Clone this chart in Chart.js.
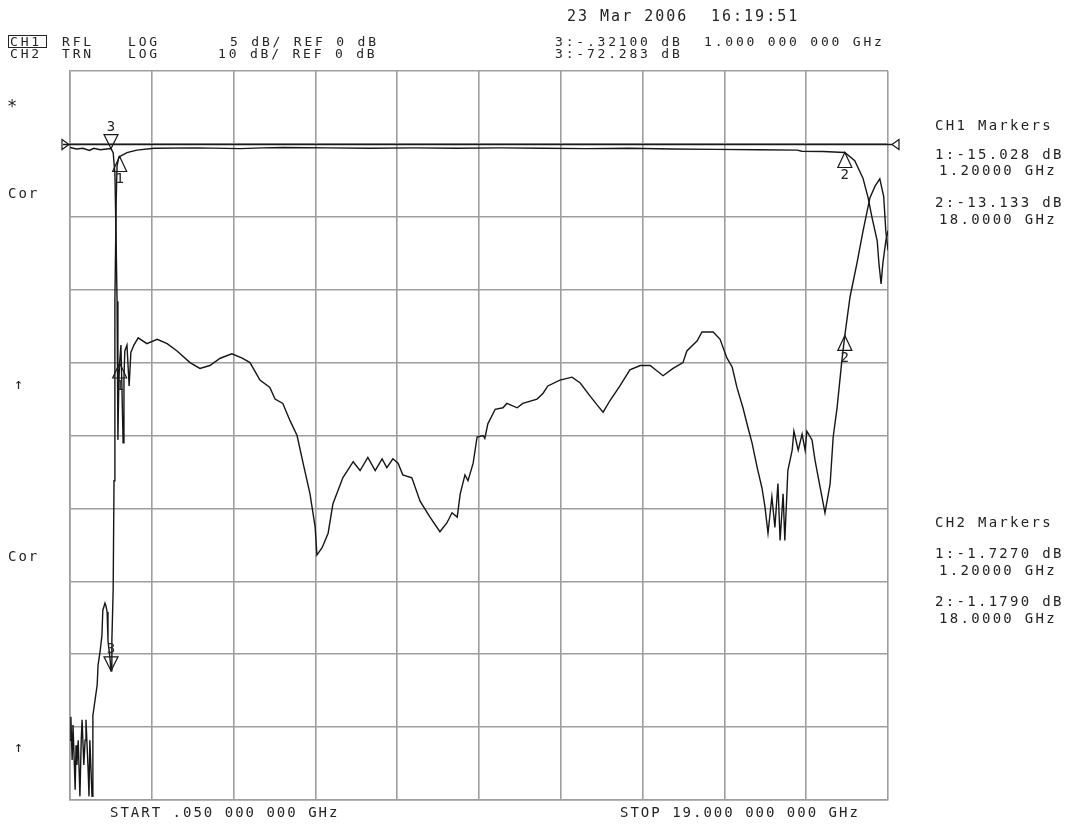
<!DOCTYPE html>
<html><head><meta charset="utf-8">
<script src="https://cdn.jsdelivr.net/npm/chart.js@4"></script>
<style>html,body{margin:0;padding:0;background:#fff}#wrap{width:1091px;height:824px;position:relative}</style>
</head><body><div id="wrap"><canvas id="c" width="1091" height="824"></canvas></div>
<script>
// Sweep (GHz)
const freqStart = 0.05, freqStop = 19.0;
// CH1: reflection, 5 dB/div, ref 0 dB
const ch1Freq = [0.05,0.2,0.35,0.5,0.6,0.75,0.9,1.0,1.05,1.09,1.115,1.14,1.16,1.18,1.2,1.23,1.255,1.28,1.30,1.32,1.37,1.42,1.46,1.53,1.63,1.83,2.07,2.30,2.53,2.83,3.06,3.29,3.53,3.80,4.04,4.22,4.45,4.68,4.80,4.98,5.15,5.31,5.45,5.61,5.73,5.77,5.89,6.03,6.14,6.37,6.61,6.77,6.95,7.12,7.28,7.39,7.53,7.65,7.76,7.97,8.16,8.39,8.62,8.78,8.90,9.02,9.09,9.20,9.27,9.39,9.48,9.62,9.66,9.73,9.90,10.08,10.17,10.41,10.54,10.87,11.01,11.12,11.40,11.68,11.87,12.10,12.26,12.40,12.56,12.79,13.02,13.26,13.49,13.79,14.02,14.25,14.34,14.58,14.69,14.95,15.11,15.27,15.39,15.50,15.64,15.76,15.85,15.97,16.08,16.15,16.22,16.31,16.38,16.45,16.50,16.57,16.61,16.68,16.78,16.82,16.92,17.01,17.08,17.12,17.24,17.31,17.43,17.54,17.66,17.73,17.82,17.93,18.0,18.12,18.28,18.42,18.58,18.70,18.81,18.90,18.95,19.0];
const ch1Db = [-0.25,-0.35,-0.3,-0.45,-0.3,-0.4,-0.35,-0.32,-0.6,-2.0,-6.0,-10.8,-20.3,-16.5,-15.0,-13.8,-17.0,-20.5,-16.0,-14.2,-13.8,-16.6,-14.3,-13.8,-13.3,-13.7,-13.4,-13.7,-14.2,-15.0,-15.4,-15.2,-14.7,-14.4,-14.7,-15.0,-16.2,-16.7,-17.5,-17.8,-19.0,-20.0,-21.9,-24.0,-26.3,-28.2,-27.7,-26.7,-24.7,-22.9,-21.8,-22.4,-21.5,-22.4,-21.6,-22.2,-21.6,-21.9,-22.7,-22.9,-24.5,-25.6,-26.6,-26.0,-25.3,-25.6,-24.0,-22.7,-23.1,-21.9,-20.1,-20.0,-20.2,-19.2,-18.2,-18.1,-17.8,-18.1,-17.8,-17.5,-17.1,-16.6,-16.2,-16.0,-16.4,-17.3,-17.9,-18.4,-17.6,-16.6,-15.5,-15.2,-15.2,-15.9,-15.4,-15.0,-14.2,-13.5,-12.9,-12.9,-13.4,-14.7,-15.3,-16.7,-18.1,-19.5,-20.5,-22.2,-23.6,-24.9,-26.7,-24.2,-26.3,-23.3,-27.2,-24.0,-27.2,-22.4,-21.0,-19.7,-21.0,-19.9,-21.0,-19.7,-20.3,-21.7,-23.6,-25.3,-23.3,-20.1,-18.1,-14.9,-13.13,-10.5,-8.2,-6.0,-3.7,-2.9,-2.4,-3.6,-6.0,-7.3];
// CH2: transmission, 10 dB/div, ref 0 dB
const ch2Freq = [0.05,0.07,0.10,0.12,0.17,0.19,0.21,0.24,0.28,0.31,0.33,0.37,0.40,0.42,0.47,0.49,0.51,0.56,0.58,0.63,0.68,0.70,0.75,0.79,0.81,0.86,0.88,0.91,0.93,0.98,1.0,1.02,1.05,1.07,1.09,1.12,1.14,1.18,1.2,1.37,1.6,2.0,3.0,4.0,4.5,5.0,6.0,7.0,8.0,9.0,10.0,11.0,12.0,13.0,14.0,15.0,16.0,16.9,17.0,17.5,18.0,18.23,18.42,18.54,18.63,18.75,18.79,18.84,18.88,18.95,19.0];
const ch2Db = [-81.8,-78.6,-84.5,-79.7,-88.6,-82.5,-85.2,-81.8,-89.5,-81.8,-79.0,-85.2,-81.8,-79.0,-85.9,-89.5,-81.8,-89.5,-78.4,-76.3,-74.2,-71.5,-69.5,-67.4,-64.0,-63.0,-63.3,-64.2,-68.1,-70.8,-72.28,-68.1,-61.2,-46.2,-21.5,-7.8,-3.0,-1.8,-1.73,-1.2,-0.85,-0.6,-0.55,-0.65,-0.55,-0.5,-0.55,-0.6,-0.55,-0.6,-0.55,-0.6,-0.65,-0.6,-0.7,-0.75,-0.8,-0.85,-1.0,-1.05,-1.18,-2.3,-4.7,-7.4,-10.1,-13.3,-16.4,-19.2,-16.4,-13.3,-11.9];
// Markers
const ch1Markers = [{n:'3',f:1.0,db:-0.321,dir:'down'},{n:'1',f:1.2,db:-15.028,dir:'up'},{n:'2',f:18.0,db:-13.133,dir:'up'}];
const ch2Markers = [{n:'3',f:1.0,db:-72.283,dir:'down'},{n:'1',f:1.2,db:-1.727,dir:'up'},{n:'2',f:18.0,db:-1.179,dir:'up'}];
const refLevel = 0;

const pts = (fx, dy) => fx.map((f, i) => ({x: f, y: dy[i]}));
const MONO = '"DejaVu Sans Mono", "Liberation Mono", monospace';
const INK = '#242424';

function txt(ctx, s, x, y, size, spacing, align) {
  ctx.font = size + 'px ' + MONO;
  ctx.letterSpacing = spacing + 'px';
  ctx.textAlign = align || 'left';
  ctx.textBaseline = 'alphabetic';
  ctx.fillText(s, x, y);
}

function marker(ctx, px, py, dir, label) {
  ctx.beginPath();
  if (dir === 'down') {
    ctx.moveTo(px, py); ctx.lineTo(px - 7, py - 14); ctx.lineTo(px + 7, py - 14); ctx.closePath(); ctx.stroke();
    ctx.font = '14px ' + MONO; ctx.letterSpacing = '0px'; ctx.textAlign = 'center'; ctx.textBaseline = 'alphabetic';
    ctx.fillText(label, px, py - 18);
  } else {
    ctx.moveTo(px, py); ctx.lineTo(px - 7, py + 15); ctx.lineTo(px + 7, py + 15); ctx.closePath(); ctx.stroke();
    ctx.font = '14px ' + MONO; ctx.letterSpacing = '0px'; ctx.textAlign = 'center'; ctx.textBaseline = 'top';
    ctx.fillText(label, px, py + 16);
  }
}

const overlay = {
  id: 'overlay',
  afterDatasetsDraw(chart) {
    const {ctx, chartArea: a, scales} = chart;
    const xs = scales.x, y1 = scales.y1, y2 = scales.y2;
    ctx.save();
    ctx.strokeStyle = '#1a1a1a'; ctx.fillStyle = INK;
    // reference line with end triangles
    const ry = Math.round(y1.getPixelForValue(refLevel)) + 0.5;
    ctx.lineWidth = 1.6;
    ctx.beginPath(); ctx.moveTo(a.left - 7, ry); ctx.lineTo(a.right + 4, ry); ctx.stroke();
    ctx.lineWidth = 1.2;
    ctx.beginPath(); ctx.moveTo(a.left - 8, ry - 5); ctx.lineTo(a.left - 1, ry); ctx.lineTo(a.left - 8, ry + 5); ctx.closePath(); ctx.stroke();
    ctx.beginPath(); ctx.moveTo(a.right + 11, ry - 5); ctx.lineTo(a.right + 4, ry); ctx.lineTo(a.right + 11, ry + 5); ctx.closePath(); ctx.stroke();
    // markers
    ctx.lineWidth = 1.2;
    ch1Markers.forEach(m => marker(ctx, xs.getPixelForValue(m.f), y1.getPixelForValue(m.db), m.dir, m.n));
    ch2Markers.forEach(m => marker(ctx, xs.getPixelForValue(m.f), y2.getPixelForValue(m.db), m.dir, m.n));
    ctx.restore();
  },
  afterDraw(chart) {
    const ctx = chart.ctx;
    ctx.save();
    ctx.fillStyle = INK; ctx.strokeStyle = INK;
    // header
    txt(ctx, '23 Mar 2006', 567, 21, 15, 2.0);
    txt(ctx, '16:19:51', 711, 21, 15, 2.0);
    txt(ctx, 'CH1', 10, 46, 13, 2.8);
    ctx.lineWidth = 1; ctx.strokeRect(8.5, 35.5, 38, 12);
    txt(ctx, 'RFL', 62, 46, 13, 2.8);
    txt(ctx, 'LOG', 128, 46, 13, 2.8);
    txt(ctx, '5 dB/ REF 0 dB', 230, 46, 13, 2.8);
    txt(ctx, 'CH2', 10, 58, 13, 2.8);
    txt(ctx, 'TRN', 62, 58, 13, 2.8);
    txt(ctx, 'LOG', 128, 58, 13, 2.8);
    txt(ctx, '10 dB/ REF 0 dB', 218, 58, 13, 2.8);
    txt(ctx, '3:-.32100 dB', 555, 46, 13, 2.8);
    txt(ctx, '1.000 000 000 GHz', 704, 46, 13, 2.8);
    txt(ctx, '3:-72.283 dB', 555, 58, 13, 2.8);
    // left annotations
    txt(ctx, '*', 7, 112, 17, 0);
    txt(ctx, 'Cor', 8, 198, 14, 2.0);
    txt(ctx, '\u2191', 14, 389, 15, 0);
    txt(ctx, 'Cor', 8, 561, 14, 2.0);
    txt(ctx, '\u2191', 14, 752, 15, 0);
    // right marker tables
    txt(ctx, 'CH1 Markers', 935, 130, 14, 2.3);
    txt(ctx, '1:-15.028 dB', 935, 159, 14, 2.3);
    txt(ctx, '1.20000 GHz', 1057, 175, 14, 2.3, 'right');
    txt(ctx, '2:-13.133 dB', 935, 207, 14, 2.3);
    txt(ctx, '18.0000 GHz', 1057, 224, 14, 2.3, 'right');
    txt(ctx, 'CH2 Markers', 935, 527, 14, 2.3);
    txt(ctx, '1:-1.7270 dB', 935, 558, 14, 2.3);
    txt(ctx, '1.20000 GHz', 1057, 575, 14, 2.3, 'right');
    txt(ctx, '2:-1.1790 dB', 935, 606, 14, 2.3);
    txt(ctx, '18.0000 GHz', 1057, 623, 14, 2.3, 'right');
    // bottom
    txt(ctx, 'START .050 000 000 GHz', 110, 817, 14, 2.0);
    txt(ctx, 'STOP 19.000 000 000 GHz', 620, 817, 14, 2.0);
    ctx.restore();
  }
};

const GRID = '#9e9e9e';
new Chart(document.getElementById('c'), {
  type: 'line',
  data: {
    datasets: [
      {label: 'CH1 RFL', data: pts(ch1Freq, ch1Db), yAxisID: 'y1', borderColor: '#161616', borderWidth: 1.4, pointRadius: 0, tension: 0, fill: false},
      {label: 'CH2 TRN', data: pts(ch2Freq, ch2Db), yAxisID: 'y2', borderColor: '#161616', borderWidth: 1.4, pointRadius: 0, tension: 0, fill: false}
    ]
  },
  options: {
    responsive: false, animation: false, parsing: true,
    layout: {padding: {left: 70, right: 203, top: 71, bottom: 24}},
    plugins: {legend: {display: false}, tooltip: {enabled: false}},
    scales: {
      x: {
        type: 'linear', min: freqStart, max: freqStop,
        afterBuildTicks: s => { s.ticks = Array.from({length: 11}, (_, i) => ({value: freqStart + i * (freqStop - freqStart) / 10})); },
        ticks: {display: false},
        grid: {color: GRID, lineWidth: 1.6, drawTicks: false},
        border: {display: true, color: GRID, width: 1.6}
      },
      y1: {
        type: 'linear', position: 'left', min: -45, max: 5,
        ticks: {display: false, stepSize: 5},
        grid: {color: GRID, lineWidth: 1.6, drawTicks: false},
        border: {display: true, color: GRID, width: 1.6}
      },
      y2: {type: 'linear', position: 'right', min: -90, max: 10, display: false}
    }
  },
  plugins: [overlay]
});
</script>
</body></html>
